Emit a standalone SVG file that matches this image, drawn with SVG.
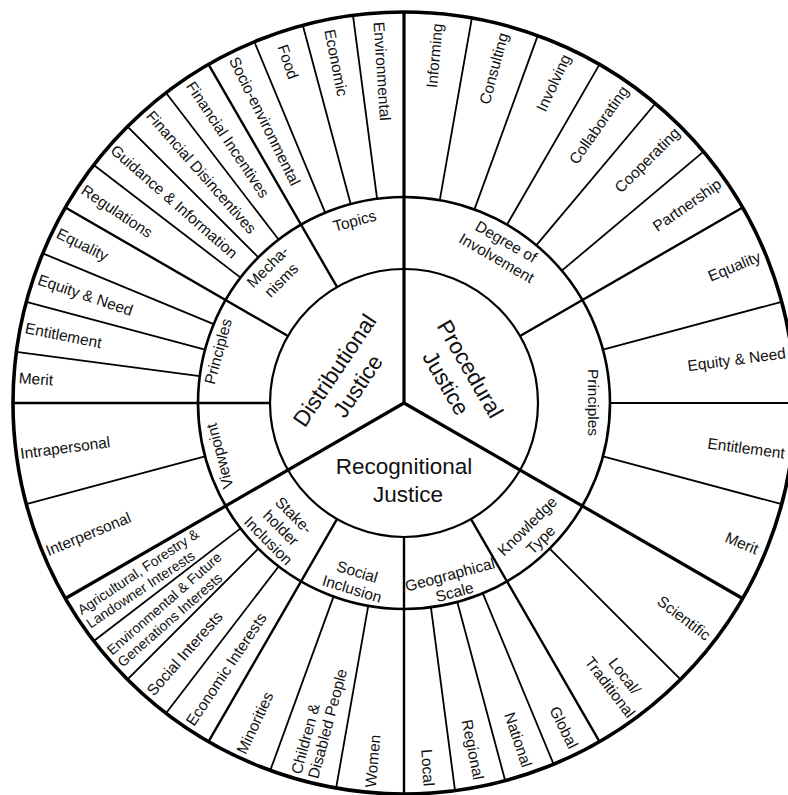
<svg xmlns="http://www.w3.org/2000/svg" width="788" height="795" viewBox="0 0 788 795">
<style>
text{font-family:"Liberation Sans",Arial,sans-serif;fill:#111}
.o{font-size:15.5px}
.s{font-size:14px}
.m{font-size:15.5px;text-anchor:middle}
.t{font-size:22.5px;text-anchor:middle}
.e{text-anchor:end}
.ring{fill:none;stroke:#000}
.main{stroke:#000;stroke-width:3.2}
.sec{stroke:#000;stroke-width:2.4}
.leaf{stroke:#000;stroke-width:1.8}
</style>
<rect width="788" height="795" fill="#fff"/>
<g id="connectors">
<circle class="ring" cx="404" cy="403" r="391" stroke-width="3.6"/>
<circle class="ring" cx="404" cy="403" r="206" stroke-width="2.6"/>
<circle class="ring" cx="404" cy="403" r="134" stroke-width="2.2"/>
<g class="main">
<line x1="404" y1="403" x2="404" y2="12"/>
<line x1="404" y1="403" x2="404" y2="12" transform="rotate(120 404 403)"/>
<line x1="404" y1="403" x2="404" y2="12" transform="rotate(240 404 403)"/>
</g>
<g class="sec">
<line x1="404" y1="269" x2="404" y2="12" transform="rotate(60 404 403)"/>
<line x1="404" y1="269" x2="404" y2="12" transform="rotate(150 404 403)"/>
<line x1="404" y1="269" x2="404" y2="12" transform="rotate(180 404 403)"/>
<line x1="404" y1="269" x2="404" y2="12" transform="rotate(210 404 403)"/>
<line x1="404" y1="269" x2="404" y2="12" transform="rotate(270 404 403)"/>
<line x1="404" y1="269" x2="404" y2="12" transform="rotate(300 404 403)"/>
<line x1="404" y1="269" x2="404" y2="12" transform="rotate(330 404 403)"/>
</g>
<g class="leaf">
<line x1="404" y1="197" x2="404" y2="12" transform="rotate(10 404 403)"/>
<line x1="404" y1="197" x2="404" y2="12" transform="rotate(20 404 403)"/>
<line x1="404" y1="197" x2="404" y2="12" transform="rotate(30 404 403)"/>
<line x1="404" y1="197" x2="404" y2="12" transform="rotate(40 404 403)"/>
<line x1="404" y1="197" x2="404" y2="12" transform="rotate(50 404 403)"/>
<line x1="404" y1="197" x2="404" y2="12" transform="rotate(75 404 403)"/>
<line x1="404" y1="197" x2="404" y2="12" transform="rotate(90 404 403)"/>
<line x1="404" y1="197" x2="404" y2="12" transform="rotate(105 404 403)"/>
<line x1="404" y1="197" x2="404" y2="12" transform="rotate(135 404 403)"/>
<line x1="404" y1="197" x2="404" y2="12" transform="rotate(157.5 404 403)"/>
<line x1="404" y1="197" x2="404" y2="12" transform="rotate(165 404 403)"/>
<line x1="404" y1="197" x2="404" y2="12" transform="rotate(172.5 404 403)"/>
<line x1="404" y1="197" x2="404" y2="12" transform="rotate(190 404 403)"/>
<line x1="404" y1="197" x2="404" y2="12" transform="rotate(200 404 403)"/>
<line x1="404" y1="197" x2="404" y2="12" transform="rotate(217.5 404 403)"/>
<line x1="404" y1="197" x2="404" y2="12" transform="rotate(225 404 403)"/>
<line x1="404" y1="197" x2="404" y2="12" transform="rotate(232.5 404 403)"/>
<line x1="404" y1="197" x2="404" y2="12" transform="rotate(255 404 403)"/>
<line x1="404" y1="197" x2="404" y2="12" transform="rotate(277.5 404 403)"/>
<line x1="404" y1="197" x2="404" y2="12" transform="rotate(285 404 403)"/>
<line x1="404" y1="197" x2="404" y2="12" transform="rotate(292.5 404 403)"/>
<line x1="404" y1="197" x2="404" y2="12" transform="rotate(307.5 404 403)"/>
<line x1="404" y1="197" x2="404" y2="12" transform="rotate(315 404 403)"/>
<line x1="404" y1="197" x2="404" y2="12" transform="rotate(322.5 404 403)"/>
<line x1="404" y1="197" x2="404" y2="12" transform="rotate(337.5 404 403)"/>
<line x1="404" y1="197" x2="404" y2="12" transform="rotate(345 404 403)"/>
<line x1="404" y1="197" x2="404" y2="12" transform="rotate(352.5 404 403)"/>
</g>
</g>

<g id="distributional-justice"><text class="t" transform="translate(346,378) rotate(-56)"><tspan x="0" y="-6">Distributional</tspan><tspan x="0" y="22">Justice</tspan></text></g>
<g id="procedural-justice"><text class="t" transform="translate(458.3,375.8) rotate(60)"><tspan x="0" y="-6">Procedural</tspan><tspan x="0" y="22">Justice</tspan></text></g>
<g id="recognitional-justice"><text class="t"><tspan x="404" y="474">Recognitional</tspan><tspan x="408" y="502">Justice</tspan></text></g>

<g id="topics"><text class="m" transform="translate(356,226) rotate(-15)">Topics</text></g>
<g id="mechanisms"><text class="m" transform="translate(271.5,270.5) rotate(-45)"><tspan x="0" y="0">Mecha-</tspan><tspan x="0" y="19">nisms</tspan></text></g>
<g id="dist-principles"><text class="m" transform="translate(223.3,352.8) rotate(-75)">Principles</text></g>
<g id="viewpoint"><text class="m" transform="translate(224.8,454.7) rotate(-105)">Viewpoint</text></g>
<g id="degree-of-involvement"><text class="m" transform="translate(503.5,246.3) rotate(30)"><tspan x="0" y="0">Degree of</tspan><tspan x="0" y="19">Involvement</tspan></text></g>
<g id="proc-principles"><text class="m" transform="translate(588,402.5) rotate(90)">Principles</text></g>
<g id="knowledge-type"><text class="m" transform="translate(531,530) rotate(-45)"><tspan x="0" y="0">Knowledge</tspan><tspan x="0" y="19">Type</tspan></text></g>
<g id="geographical-scale"><text class="m" transform="translate(451.3,579.8) rotate(-15)"><tspan x="0" y="0">Geographical</tspan><tspan x="0" y="18">Scale</tspan></text></g>
<g id="social-inclusion"><text class="m" transform="translate(355.7,576.8) rotate(17)"><tspan x="0" y="0">Social</tspan><tspan x="0" y="18">Inclusion</tspan></text></g>
<g id="stakeholder-inclusion"><text class="m" transform="translate(290,519) rotate(45)"><tspan x="0" y="0">Stake-</tspan><tspan x="0" y="18">holder</tspan><tspan x="0" y="36">Inclusion</tspan></text></g>

<g id="outer" transform="translate(404,403)">
<g id="informing"><text class="o e" transform="rotate(-85)" x="381" y="5.5">Informing</text></g>
<g id="consulting"><text class="o e" transform="rotate(-75)" x="383" y="5.5">Consulting</text></g>
<g id="involving"><text class="o e" transform="rotate(-65)" x="384" y="5.5">Involving</text></g>
<g id="collaborating"><text class="o e" transform="rotate(-55)" x="385" y="5.5">Collaborating</text></g>
<g id="cooperating"><text class="o e" transform="rotate(-45)" x="386" y="5.5">Cooperating</text></g>
<g id="partnership"><text class="o e" transform="rotate(-35)" x="385" y="5.5">Partnership</text></g>
<g id="proc-equality"><text class="o e" transform="rotate(-22.5)" x="385" y="5.5">Equality</text></g>
<g id="proc-equity-need"><text class="o e" transform="rotate(-7.5)" x="385" y="5.5">Equity &amp; Need</text></g>
<g id="proc-entitlement"><text class="o e" transform="rotate(7.5)" x="384" y="5.5">Entitlement</text></g>
<g id="proc-merit"><text class="o e" transform="rotate(22.5)" x="383" y="5.5">Merit</text></g>
<g id="scientific"><text class="o e" transform="rotate(37.5)" x="384" y="5.5">Scientific</text></g>
<g id="local-traditional"><text class="o" text-anchor="middle" transform="rotate(52.5)"><tspan x="351" y="-3.5">Local/</tspan><tspan x="351" y="15">Traditional</tspan></text></g>
<g id="global"><text class="o e" transform="rotate(63.75)" x="384" y="5.5">Global</text></g>
<g id="national"><text class="o e" transform="rotate(71.25)" x="384" y="5.5">National</text></g>
<g id="regional"><text class="o e" transform="rotate(78.75)" x="384" y="5.5">Regional</text></g>
<g id="local"><text class="o e" transform="rotate(86.25)" x="384" y="5.5">Local</text></g>

<g id="women"><text class="o" transform="rotate(-85)" x="-386" y="5.5">Women</text></g>
<g id="children-disabled"><text class="o" transform="rotate(-75)"><tspan x="-386" y="-3">Children &amp;</tspan><tspan x="-386" y="14.5">Disabled People</tspan></text></g>
<g id="minorities"><text class="o" transform="rotate(-65)" x="-386" y="5.5">Minorities</text></g>
<g id="economic-interests"><text class="o" transform="rotate(-56.25)" x="-386" y="5.5">Economic Interests</text></g>
<g id="social-interests"><text class="o" transform="rotate(-48.75)" x="-386" y="5.5">Social Interests</text></g>
<g id="environmental-future"><text class="s" transform="rotate(-41.25)"><tspan x="-386" y="-2.5">Environmental &amp; Future</tspan><tspan x="-386" y="13.5">Generations Interests</tspan></text></g>
<g id="agricultural"><text class="s" transform="rotate(-33.75)"><tspan x="-386" y="-2.5">Agricultural, Forestry &amp;</tspan><tspan x="-386" y="13.5">Landowner Interests</tspan></text></g>

<g id="interpersonal"><text class="o" transform="rotate(-22.5)" x="-387" y="5.5">Interpersonal</text></g>
<g id="intrapersonal"><text class="o" transform="rotate(-7.5)" x="-387" y="5.5">Intrapersonal</text></g>
<g id="dist-merit"><text class="o" transform="rotate(3.75)" x="-386" y="5.5">Merit</text></g>
<g id="dist-entitlement"><text class="o" transform="rotate(11.25)" x="-386" y="5.5">Entitlement</text></g>
<g id="dist-equity-need"><text class="o" transform="rotate(18.75)" x="-386" y="5.5">Equity &amp; Need</text></g>
<g id="dist-equality"><text class="o" transform="rotate(26.25)" x="-386" y="5.5">Equality</text></g>
<g id="regulations"><text class="o" transform="rotate(33.75)" x="-386" y="5.5">Regulations</text></g>
<g id="guidance"><text class="o" transform="rotate(41.25)" x="-387" y="5.5">Guidance &amp; Information</text></g>
<g id="fin-disincentives"><text class="o" transform="rotate(48.75)" x="-386" y="5.5">Financial Disincentives</text></g>
<g id="fin-incentives"><text class="o" transform="rotate(56.25)" x="-385" y="5.5">Financial Incentives</text></g>
<g id="socio-environmental"><text class="o" transform="rotate(63.75)" x="-385" y="5.5">Socio-environmental</text></g>
<g id="food"><text class="o" transform="rotate(71.25)" x="-378" y="5.5">Food</text></g>
<g id="economic"><text class="o" transform="rotate(78.75)" x="-381" y="5.5">Economic</text></g>
<g id="environmental"><text class="o" transform="rotate(86.25)" x="-382" y="5.5">Environmental</text></g>
</g>
</svg>
